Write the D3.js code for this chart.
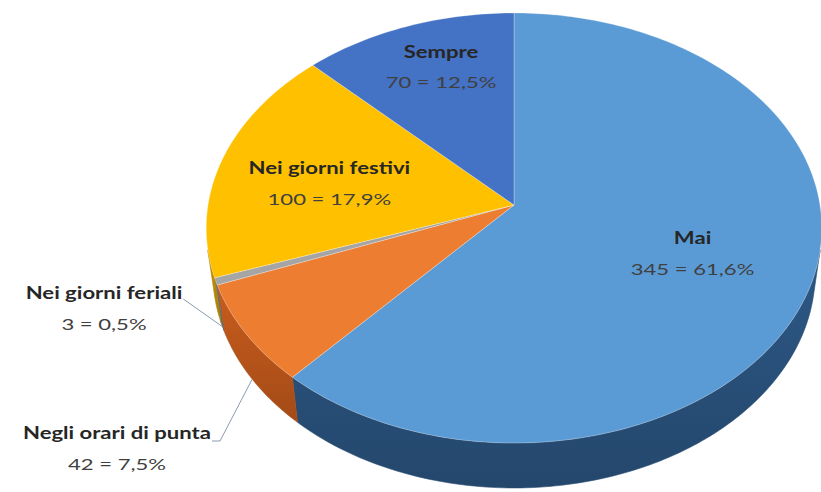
<!DOCTYPE html>
<html>
<head>
<meta charset="utf-8">
<script src="https://cdn.jsdelivr.net/npm/d3@7"></script>
<style>
  html, body { margin: 0; padding: 0; background: #ffffff; }
  svg { display: block; }
  text { font-family: Lato, "Open Sans", sans-serif; }
</style>
</head>
<body>
<svg id="chart" width="821" height="492"></svg>
<script>
// Survey answers, in slice order (clockwise from 12 o'clock)
const categories = ["Mai", "Negli orari di punta", "Nei giorni feriali", "Nei giorni festivi", "Sempre"];
const counts = [345, 42, 3, 100, 70];
const topColors = ["#5B9BD5", "#ED7D31", "#A5A5A5", "#FFC000", "#4472C4"];
const sideColors = ["#284f78", "#b5531a", "#6f6f6f", "#b98a00", "#2c4d88"];

// Label placement: radial fraction, angular nudge (deg), inside or outside the pie
const labelLayout = [
  { r: 0.61, nudge: 0, inside: true },
  { inside: false, tx: 117, ty: 433 },
  { inside: false, tx: 104, ty: 293 },
  { r: 0.62, nudge: -2.8, inside: true },
  { r: 0.75, nudge: 2.5, inside: true }
];

const svg = d3.select("#chart");

// 3D projection of a tilted disc seen in perspective
const cx = 514, cy = 205, k = 306;
const tilt = 44 * Math.PI / 180;
const camDist = 6.72;
const depth = 0.21;
const sinT = Math.sin(tilt), cosT = Math.cos(tilt);

function project(theta, r, h) {
  const x = r * Math.sin(theta);
  const z = -r * Math.cos(theta);
  const v = h * cosT - z * sinT;
  const w = h * sinT + z * cosT;
  const s = camDist / (camDist - w);
  return [cx + k * x * s, cy - k * v * s];
}

const pie = d3.pie().sort(null).value(d => d)(counts);
const total = d3.sum(counts);
const itLocale = d3.formatLocale({ decimal: ",", thousands: ".", grouping: [3], currency: ["", " €"] });
const fmtPct = itLocale.format(".1f");

const line = d3.line().x(d => d[0]).y(d => d[1]);

function arcPoints(a0, a1, r, h) {
  const n = Math.max(2, Math.ceil(Math.abs(a1 - a0) / (Math.PI / 180)));
  return d3.range(n + 1).map(i => project(a0 + (a1 - a0) * i / n, r, h));
}

// Outer wall is visible where its normal faces the camera
const visLimit = Math.acos(-1 / (camDist * cosT));
const vis0 = visLimit, vis1 = 2 * Math.PI - visLimit;

const defs = svg.append("defs");
pie.forEach((p, i) => {
  const g = defs.append("linearGradient").attr("id", "side" + i)
    .attr("x1", 0).attr("y1", 0).attr("x2", 0).attr("y2", 1);
  g.append("stop").attr("offset", "0%").attr("stop-color", d3.color(sideColors[i]).brighter(0.3));
  g.append("stop").attr("offset", "100%").attr("stop-color", d3.color(sideColors[i]).darker(0.3));
});

// Side walls
const walls = svg.append("g");
pie.forEach((p, i) => {
  const a0 = Math.max(p.startAngle, vis0);
  const a1 = Math.min(p.endAngle, vis1);
  if (a1 <= a0) return;
  const top = arcPoints(a0, a1, 1, 0);
  const bottom = arcPoints(a1, a0, 1, -depth);
  walls.append("path")
    .attr("d", line(top.concat(bottom)) + "Z")
    .attr("fill", `url(#side${i})`)
    .attr("stroke", d3.color(sideColors[i]).darker(0.2))
    .attr("stroke-width", 0.6);
});

// Top faces
const faces = svg.append("g");
pie.forEach((p, i) => {
  const pts = [project(0, 0, 0)].concat(arcPoints(p.startAngle, p.endAngle, 1, 0));
  faces.append("path")
    .attr("d", line(pts) + "Z")
    .attr("fill", topColors[i])
    .attr("stroke", "rgba(255,255,255,0.35)")
    .attr("stroke-width", 0.8)
    .attr("stroke-linejoin", "round");
});

// Labels (wide, heavy lettering)
const nameStretch = 1.3, valueStretch = 1.38;
const labels = svg.append("g");

function stretchedText(x, y, str, size, weight, fill, stretch) {
  const t = labels.append("text")
    .attr("text-anchor", "middle")
    .attr("transform", `translate(${x},${y}) scale(${stretch},1)`)
    .attr("dy", "0.35em")
    .attr("font-size", size)
    .attr("font-weight", weight)
    .attr("fill", fill)
    .text(str);
  return t.node().getComputedTextLength() * stretch;
}

pie.forEach((p, i) => {
  const L = labelLayout[i];
  const name = categories[i];
  const valueText = `${counts[i]} = ${fmtPct(counts[i] / total * 100)}%`;
  let x, y;
  if (L.inside) {
    const mid = (p.startAngle + p.endAngle) / 2 + L.nudge * Math.PI / 180;
    [x, y] = project(mid, L.r, 0);
    y -= 14;
  } else {
    x = L.tx; y = L.ty;
  }
  const nameW = stretchedText(x, y, name, 17, 700, "#262626", nameStretch);
  stretchedText(x, y + 31, valueText, 16, 400, "#404040", valueStretch);

  if (!L.inside) {
    // leader line from the label to the bottom rim of its slice
    const mid = (p.startAngle + p.endAngle) / 2;
    const end = project(mid, 1, -depth);
    const sx = x + nameW / 2;
    let pts;
    if (i === 1) {
      pts = [[sx + 1, y + 8], [sx + 9, y + 8], end];
    } else {
      pts = [[sx + 1, y + 6], end];
    }
    labels.append("path")
      .attr("d", line(pts))
      .attr("fill", "none")
      .attr("stroke", "#8c9bb0")
      .attr("stroke-width", 1);
  }
});
</script>
</body>
</html>
